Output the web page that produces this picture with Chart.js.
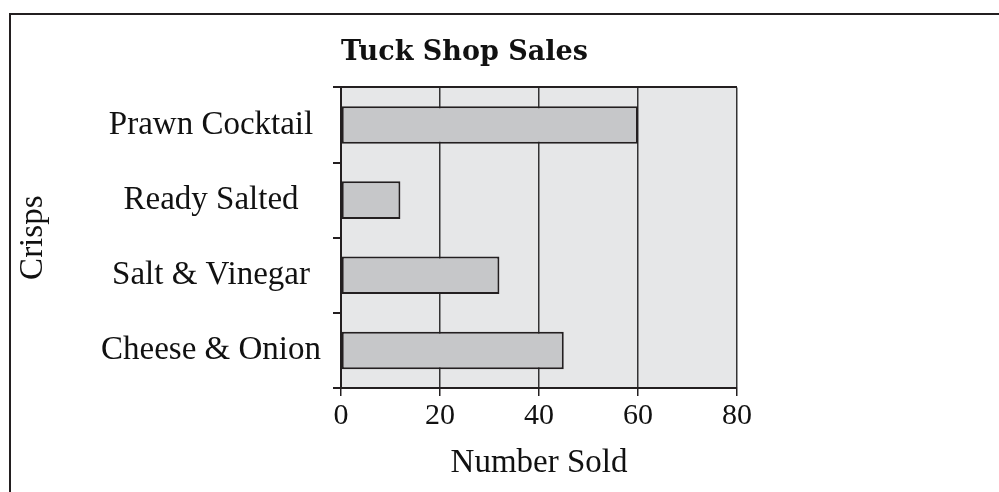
<!DOCTYPE html>
<html>
<head>
	<meta charset="utf-8">
	<title>Tuck Shop Sales</title>
	<style>
		body { margin: 0; background: #fff; overflow: hidden; }
		.frame {
			position: absolute;
			left: 9px;
			top: 13px;
			width: 1200px;
			height: 600px;
			border-left: 2px solid #231f20;
			border-top: 2px solid #231f20;
		}
		#salesChart { position: absolute; left: 0; top: 0; }
	</style>
</head>
<body>
	<div class="frame"></div>
	<canvas id="salesChart" width="999" height="492"></canvas>

	<script src="https://cdn.jsdelivr.net/npm/chart.js@4.4.1/dist/chart.umd.min.js"></script>
	<script type="text/javascript">
		// values
		const crisps = ['Prawn Cocktail', 'Ready Salted', 'Salt & Vinegar', 'Cheese & Onion'];
		const numberSold = [60, 12, 32, 45];
		const soldTicks = [0, 20, 40, 60, 80];

		const ink = '#231f20';
		const serif = '"Liberation Serif", "Times New Roman", serif';

		// grey plot background
		const plotBackground = {
			id: 'plotBackground',
			beforeDraw(chart) {
				const a = chart.chartArea;
				const c = chart.ctx;
				c.save();
				c.fillStyle = '#e6e7e8';
				c.fillRect(a.left, a.top, a.right - a.left, a.bottom - a.top);
				c.restore();
			}
		};

		const ctx = document.getElementById('salesChart').getContext('2d');
		new Chart(ctx, {
			type: 'bar',
			data: {
				labels: crisps,
				datasets: [{
					data: numberSold,
					backgroundColor: '#c6c7c9',
					borderColor: ink,
					borderWidth: 2,
					borderSkipped: false,
					barPercentage: 0.5,
					categoryPercentage: 1
				}]
			},
			options: {
				indexAxis: 'y',
				responsive: false,
				animation: false,
				layout: { padding: { left: 10, right: 262, top: 0, bottom: 0 } },
				plugins: {
					legend: { display: false },
					tooltip: { enabled: false },
					title: {
						display: true,
						text: 'Tuck Shop Sales',
						align: 'start',
						fullSize: false,
						color: '#111',
						font: { family: '"DejaVu Serif", serif', size: 27, weight: 'bold' },
						padding: { top: 37, bottom: 18 }
					}
				},
				scales: {
					x: {
						min: soldTicks[0],
						max: soldTicks[soldTicks.length - 1],
						afterBuildTicks: s => { s.ticks = soldTicks.map(v => ({ value: v })); },
						afterFit: s => { s.height = 104; },
						ticks: {
							color: '#111',
							padding: 2,
							font: { family: serif, size: 30 }
						},
						grid: {
							color: '#333',
							lineWidth: 1.5,
							tickLength: 8,
							tickColor: ink
						},
						border: { color: ink, width: 2 },
						title: {
							display: true,
							text: 'Number Sold',
							color: '#111',
							font: { family: serif, size: 33 },
							padding: { top: 0, bottom: 9 }
						}
					},
					y: {
						afterFit: s => { s.width = 331; },
						ticks: {
							color: '#111',
							crossAlign: 'center',
							padding: 12,
							font: { family: serif, size: 33 }
						},
						grid: {
							offset: true,
							drawOnChartArea: true,
							color: c => c.index === 0 ? ink : 'transparent',
							lineWidth: 2,
							tickLength: 8,
							tickColor: ink
						},
						border: { color: ink, width: 2 },
						title: {
							display: true,
							text: 'Crisps',
							color: '#111',
							font: { family: serif, size: 33 },
							padding: { top: 4, bottom: 0 }
						}
					}
				}
			},
			plugins: [plotBackground]
		});
	</script>
</body>
</html>
